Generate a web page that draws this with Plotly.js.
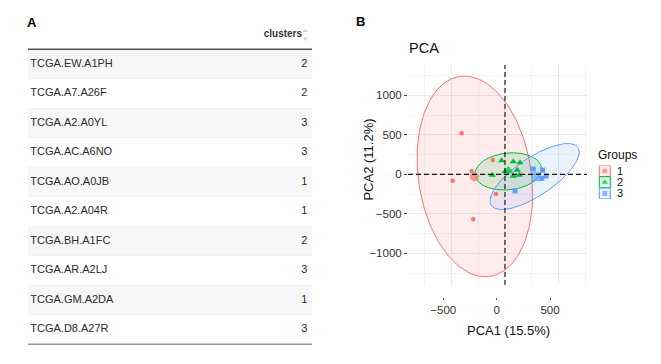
<!DOCTYPE html>
<html><head><meta charset="utf-8">
<script src="https://cdn.plot.ly/plotly-3.0.1.min.js"></script>
<style>html,body{margin:0;padding:0;background:#fff}#chart{width:661px;height:364px}</style>
</head><body><div id="chart"></div>
<script>
// ---------- Panel A: table data ----------
const sampleIds = ['TCGA.EW.A1PH','TCGA.A7.A26F','TCGA.A2.A0YL','TCGA.AC.A6NO','TCGA.AO.A0JB',
                   'TCGA.A2.A04R','TCGA.BH.A1FC','TCGA.AR.A2LJ','TCGA.GM.A2DA','TCGA.D8.A27R'];
const clusterIds = [2,2,3,3,1,1,2,3,1,3];
const tableHeader = 'clusters';

// ---------- Panel B: PCA data ----------
const groupNames = ['1','2','3'];
const pc1_g1 = [-405,-115,-312,-490,-84,-297];
const pc2_g1 = [519,181,42,-81,-249,-570];
const pc1_g2 = [-31,78,140,0,115,-119,78,134];
const pc2_g2 = [172,160,147,33,54,-9,-22,-9];
const pc1_g3 = [265,353,346,94,385];
const pc2_g3 = [67,54,-51,-211,-20];
const centroidPC1 = [-287,31,290];
const centroidPC2 = [-30,46,-30];
// ellipse: centre, half-width, half-height, correlation
const ellCx = [-282,31,278];
const ellCy = [-26,37,-28];
const ellRx = [541,312,418];
const ellRy = [1270,236,418];
const ellRho = [-0.18,0.13,0.74];
const xTitle = 'PCA1 (15.5%)';
const yTitle = 'PCA2 (11.2%)';
const plotTitle = 'PCA';
const legendTitle = 'Groups';
// the printed x tick labels sit slightly left of the grid in the source figure
const xLabelOffset = 78;

// ---------- styles ----------
const COLORS = ['#F8766D','#00BA38','#619CFF'];
const FILLS = ['rgba(248,118,109,0.13)','rgba(0,186,56,0.13)','rgba(97,156,255,0.13)'];
const SYMBOLS = ['circle','triangle-up','square'];
const PT_SIZE = [4.5,6.5,5];
const CT_SIZE = [9,10,9];
const FONT = 'Liberation Sans, Arial, Helvetica, sans-serif';
const W = 661, H = 364;
const px = v => v / W, py = v => (H - v) / H;
const X_RANGE = [-908, 768];

const traces = [];

// ---------- table ----------
const rowIdx = sampleIds.map((_, i) => i);
const striped = rowIdx.filter(i => i % 2 === 0);
traces.push({type:'bar', orientation:'h', xaxis:'x', yaxis:'y', y: striped, x: striped.map(() => 1),
  base: 0, width: 1, marker:{color:'#f7f7f7', line:{width:0}}, hoverinfo:'skip'});
traces.push({type:'scatter', mode:'text', xaxis:'x', yaxis:'y', x: rowIdx.map(() => 0.008), y: rowIdx,
  text: sampleIds, textposition:'middle right', textfont:{family:FONT, size:11, color:'#2b2b2b'}, hoverinfo:'skip'});
traces.push({type:'scatter', mode:'text', xaxis:'x', yaxis:'y', x: rowIdx.map(() => 0.984), y: rowIdx,
  text: clusterIds.map(String), textposition:'middle left', textfont:{family:FONT, size:11, color:'#2b2b2b'}, hoverinfo:'skip'});
traces.push({type:'scatter', mode:'text', xaxis:'x', yaxis:'y', x:[0.965], y:[-1],
  text:['<b>' + tableHeader + '</b>'], textposition:'middle left', textfont:{family:FONT, size:10, color:'#333'}, hoverinfo:'skip'});
traces.push({type:'scatter', mode:'markers', xaxis:'x', yaxis:'y', x:[0.977,0.977], y:[-1.12,-0.86],
  marker:{symbol:['triangle-up','triangle-down'], size:4.5, color:'#d4d4d4', line:{width:0}}, hoverinfo:'skip'});

// ---------- PCA ----------
const PC1 = [pc1_g1, pc1_g2, pc1_g3];
const PC2 = [pc2_g1, pc2_g2, pc2_g3];
function ellipse(k){
  const n = 160, xs = [], ys = [];
  const s = Math.sqrt(1 - ellRho[k]*ellRho[k]);
  for (let i = 0; i <= n; i++){
    const t = 2*Math.PI*i/n;
    xs.push(ellCx[k] + ellRx[k]*Math.cos(t));
    ys.push(ellCy[k] + ellRy[k]*(ellRho[k]*Math.cos(t) + s*Math.sin(t)));
  }
  return {xs, ys};
}
groupNames.forEach((g, k) => {
  const e = ellipse(k);
  traces.push({type:'scatter', mode:'lines', xaxis:'x2', yaxis:'y2', x:e.xs, y:e.ys, fill:'toself',
    fillcolor:FILLS[k], line:{color:COLORS[k], width:1}, hoverinfo:'skip', name:g});
});
groupNames.forEach((g, k) => {
  traces.push({type:'scatter', mode:'markers', xaxis:'x2', yaxis:'y2', x:PC1[k], y:PC2[k], name:g,
    marker:{symbol:SYMBOLS[k], size:PT_SIZE[k], color:COLORS[k], line:{width:0}}});
});
traces.push({type:'scatter', mode:'markers', xaxis:'x2', yaxis:'y2', x:centroidPC1, y:centroidPC2,
  marker:{symbol:SYMBOLS, size:CT_SIZE, color:COLORS, line:{width:0}}, hoverinfo:'skip'});
// empty trace so that the tick-label axis (x3) is created
traces.push({type:'scatter', mode:'markers', xaxis:'x3', yaxis:'y2', x:[], y:[], hoverinfo:'skip'});

// ---------- legend (built from the groups) ----------
const gIdx = groupNames.map((_, i) => i);
traces.push({type:'scatter', mode:'markers', xaxis:'x4', yaxis:'y4', x:gIdx.map(() => 0.2), y:gIdx,
  marker:{symbol:'square', size:11, color:FILLS, line:{color:COLORS, width:1}}, hoverinfo:'skip'});
traces.push({type:'scatter', mode:'markers', xaxis:'x4', yaxis:'y4', x:gIdx.map(() => 0.2), y:gIdx,
  marker:{symbol:SYMBOLS, size:[5,6,5], color:COLORS, line:{width:0}}, hoverinfo:'skip'});

const halfRows = [-0.5].concat(rowIdx.map(i => i + 0.5));
const annotations = [
  {text:'<b>A</b>', xref:'paper', yref:'paper', x:px(25), y:py(22.5), xanchor:'left', yanchor:'middle', showarrow:false, font:{family:FONT, size:13, color:'#000'}},
  {text:'<b>B</b>', xref:'paper', yref:'paper', x:px(354), y:py(21.5), xanchor:'left', yanchor:'middle', showarrow:false, font:{family:FONT, size:13, color:'#000'}},
  {text:xTitle, xref:'paper', yref:'paper', x:px(508.7), y:py(330), xanchor:'center', yanchor:'middle', showarrow:false, font:{family:FONT, size:13, color:'#111'}},
  {text:yTitle, xref:'paper', yref:'paper', x:px(368.3), y:py(159.3), xanchor:'center', yanchor:'middle', textangle:-90, showarrow:false, font:{family:FONT, size:13, color:'#111'}},
  {text:legendTitle, xref:'paper', yref:'paper', x:px(596), y:py(155), xanchor:'left', yanchor:'middle', showarrow:false, font:{family:FONT, size:12, color:'#111'}}
].concat(groupNames.map((g, k) => ({text:g, xref:'x4', yref:'y4', x:0.44, y:k, xanchor:'left', yanchor:'middle',
  showarrow:false, font:{family:FONT, size:11, color:'#111'}})));

const shapes = [
  {type:'line', xref:'x domain', yref:'y', x0:0, x1:1, y0:-0.5, y1:-0.5, line:{color:'#555', width:1.6}},
  {type:'line', xref:'x domain', yref:'y', x0:0, x1:1, y0:sampleIds.length - 0.5, y1:sampleIds.length - 0.5, line:{color:'#999', width:1.6}},
  {type:'line', xref:'x2', yref:'y2 domain', x0:0, x1:0, y0:0, y1:1, line:{color:'#111', width:1.1, dash:'5px,3px'}},
  {type:'line', xref:'x2 domain', yref:'y2', x0:0, x1:1, y0:0, y1:0, line:{color:'#111', width:1.1, dash:'5px,3px'}}
];

const layout = {
  width:W, height:H, margin:{l:0, r:0, t:0, b:0}, paper_bgcolor:'#fff', plot_bgcolor:'rgba(0,0,0,0)',
  showlegend:false, font:{family:FONT, color:'#333'}, hovermode:false,
  title:{text:plotTitle, xref:'paper', yref:'paper', x:px(409), xanchor:'left', y:py(48.3), yanchor:'middle', font:{family:FONT, size:14.5, color:'#111'}},
  xaxis:{domain:[px(28), px(312)], range:[0,1], visible:false, fixedrange:true, anchor:'y'},
  yaxis:{domain:[py(347.2), py(16.8)], range:[9.6,-1.6], anchor:'x', tickmode:'array', tickvals:halfRows,
    showgrid:true, gridcolor:'#e4e4e4', gridwidth:1, showticklabels:false, ticks:'', zeroline:false, showline:false},
  xaxis2:{domain:[px(408), px(587)], range:X_RANGE, anchor:'y2', tick0:0, dtick:500,
    showgrid:true, gridcolor:'#ebebeb', gridwidth:1, minor:{dtick:250, showgrid:true, gridcolor:'#efefef', gridwidth:0.7},
    showticklabels:false, ticks:'', zeroline:false, showline:false},
  xaxis3:{overlaying:'x2', anchor:'free', position:py(297), range:X_RANGE.map(v => v + xLabelOffset), tick0:0, dtick:500,
    showgrid:false, zeroline:false, showline:false, ticks:'outside', ticklen:2, tickwidth:1, tickcolor:'#555',
    ticklabelstandoff:3.5, tickfont:{family:FONT, size:11.5, color:'#333'}},
  yaxis2:{domain:[py(285), py(65)], range:[-1401,1384], anchor:'x2', tick0:0, dtick:500,
    showgrid:true, gridcolor:'#ebebeb', gridwidth:1, minor:{dtick:250, showgrid:true, gridcolor:'#efefef', gridwidth:0.7},
    ticks:'outside', ticklen:3, tickwidth:1, tickcolor:'#444', tickfont:{family:FONT, size:11.5, color:'#333'},
    zeroline:false, showline:false},
  xaxis4:{domain:[px(596), px(640)], range:[0,1], visible:false, anchor:'y4'},
  yaxis4:{domain:[py(199), py(165.4)], range:[2.5,-0.5], visible:false, anchor:'x4'},
  annotations, shapes
};

Plotly.newPlot('chart', traces, layout, {staticPlot:true, displayModeBar:false});
</script>
</body></html>
